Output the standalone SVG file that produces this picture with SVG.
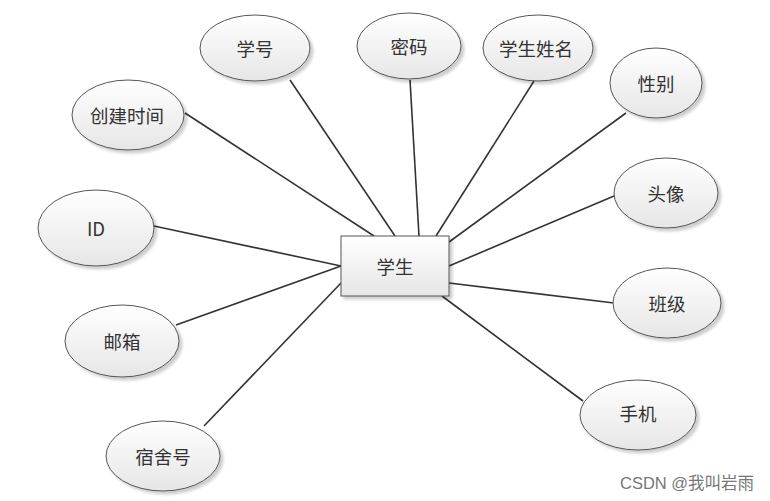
<svg xmlns="http://www.w3.org/2000/svg" width="770" height="501" viewBox="0 0 770 501">
<defs>
<linearGradient id="g" x1="0" y1="0" x2="0" y2="1">
<stop offset="0" stop-color="#ffffff"/>
<stop offset="1" stop-color="#e6e6e6"/>
</linearGradient>
<filter id="sh" x="-20%" y="-20%" width="150%" height="150%">
<feGaussianBlur in="SourceAlpha" stdDeviation="1.5"/>
<feOffset dx="3" dy="3" result="b"/>
<feComponentTransfer><feFuncA type="linear" slope="0.2"/></feComponentTransfer>
<feMerge><feMergeNode/><feMergeNode in="SourceGraphic"/></feMerge>
</filter>
</defs>
<style>
.n ellipse,.n rect{fill:url(#g);stroke:#555;stroke-width:1;filter:url(#sh)}
.t{font-family:"Noto Sans CJK SC","Liberation Sans",sans-serif;font-size:18.5px;fill:#333;text-anchor:middle;dominant-baseline:central}
.c line{stroke:#333;stroke-width:1.6}
.w{font-family:"Liberation Sans","Noto Sans CJK SC",sans-serif;font-size:16.5px;fill:#777}
</style>
<rect width="770" height="501" fill="#fff"/>
<g class="c">
<line x1="290" y1="80" x2="395" y2="236"/>
<line x1="410" y1="80" x2="419" y2="236"/>
<line x1="534" y1="81" x2="436" y2="236"/>
<line x1="626" y1="113" x2="449" y2="242"/>
<line x1="614" y1="196" x2="449" y2="266"/>
<line x1="614" y1="303" x2="449" y2="283"/>
<line x1="583" y1="401" x2="442" y2="296"/>
<line x1="185" y1="113" x2="374" y2="236"/>
<line x1="154" y1="226" x2="341" y2="266"/>
<line x1="176" y1="325" x2="341" y2="266"/>
<line x1="204" y1="426" x2="341" y2="283"/>
</g>
<g id="n-xuesheng" class="n"><rect x="341" y="236" width="108" height="60"/><text class="t" x="395" y="266">学生</text></g>
<g id="n-xuehao" class="n"><ellipse cx="255" cy="48" rx="55" ry="33"/><text class="t" x="255" y="48">学号</text></g>
<g id="n-mima" class="n"><ellipse cx="409" cy="46" rx="52" ry="33"/><text class="t" x="409" y="46">密码</text></g>
<g id="n-xingming" class="n"><ellipse cx="538" cy="48" rx="55" ry="33"/><text class="t" x="536" y="48">学生姓名</text></g>
<g id="n-xingbie" class="n"><ellipse cx="656" cy="83" rx="46" ry="35"/><text class="t" x="656" y="83">性别</text></g>
<g id="n-chuangjian" class="n"><ellipse cx="128" cy="115" rx="56" ry="35"/><text class="t" x="127" y="115">创建时间</text></g>
<g id="n-touxiang" class="n"><ellipse cx="666" cy="193" rx="52" ry="35"/><text class="t" x="666" y="193">头像</text></g>
<g id="n-id" class="n"><ellipse cx="96" cy="228" rx="58" ry="38"/><text class="t" x="96" y="228">ID</text></g>
<g id="n-banji" class="n"><ellipse cx="667" cy="303" rx="54" ry="35"/><text class="t" x="667" y="303">班级</text></g>
<g id="n-youxiang" class="n"><ellipse cx="122" cy="341" rx="57" ry="36"/><text class="t" x="122" y="341">邮箱</text></g>
<g id="n-shouji" class="n"><ellipse cx="638" cy="415" rx="58" ry="35"/><text class="t" x="638" y="413">手机</text></g>
<g id="n-sushe" class="n"><ellipse cx="163" cy="456" rx="57" ry="35"/><text class="t" x="163" y="456">宿舍号</text></g>
<text class="w" x="620" y="489">CSDN @我叫岩雨</text>
</svg>
